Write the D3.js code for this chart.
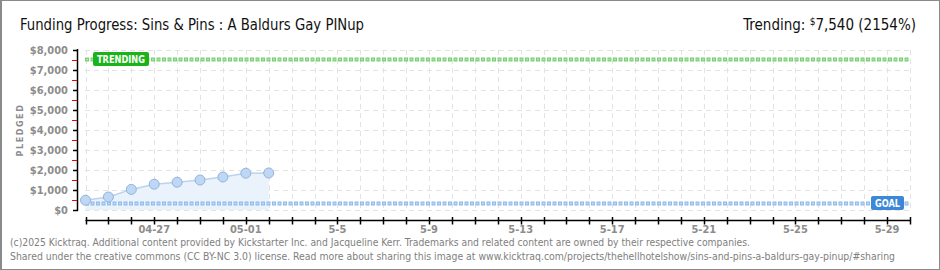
<!DOCTYPE html>
<html><head><meta charset="utf-8">
<script src="https://cdn.jsdelivr.net/npm/d3@7"></script>
<style>
html,body{margin:0;padding:0;background:#fff;}
svg{display:block;}
text{font-family:"DejaVu Sans Condensed","DejaVu Sans",sans-serif;}
</style></head>
<body>
<script>
const dates = ["2025-04-24","2025-04-25","2025-04-26","2025-04-27","2025-04-28","2025-04-29","2025-04-30","2025-05-01","2025-05-02"];
const pledged = [490, 650, 1030, 1290, 1390, 1500, 1650, 1840, 1850];
const goal = 350;
const trending = 7540;
const yTicks = [0,1000,2000,3000,4000,5000,6000,7000,8000];
const yTickLabels = ["$0","$1,000","$2,000","$3,000","$4,000","$5,000","$6,000","$7,000","$8,000"];
const xLabelDates = ["2025-04-27","2025-05-01","2025-05-05","2025-05-09","2025-05-13","2025-05-17","2025-05-21","2025-05-25","2025-05-29"];
const xLabels = ["04-27","05-01","5-5","5-9","5-13","5-17","5-21","5-25","5-29"];
const domainStart = "2025-04-24", domainEnd = "2025-05-30";

const W=940,H=270;
const parse = d3.utcParse("%Y-%m-%d");
const svg = d3.select("body").append("svg").attr("width",W).attr("height",H);

svg.append("rect").attr("x",0.5).attr("y",0.5).attr("width",W-1).attr("height",H-1).attr("fill","#fff").attr("stroke","#8a8a8a").attr("stroke-width",1);
svg.append("line").attr("x1",1).attr("x2",1).attr("y1",0).attr("y2",H).attr("stroke","#8a8a8a").attr("stroke-width",2);

const x = d3.scaleUtc().domain([parse(domainStart),parse(domainEnd)]).range([85.5,910]);
const y = d3.scaleLinear().domain([0,8000]).range([210,50]);

// grid
const days = d3.utcDay.range(parse(domainStart), d3.utcDay.offset(parse(domainEnd),1));
svg.append("g").selectAll("line").data(days).join("line")
  .attr("x1",d=>Math.round(x(d))+0.5).attr("x2",d=>Math.round(x(d))+0.5).attr("y1",50).attr("y2",210)
  .attr("stroke","#e3e3e3").attr("stroke-dasharray","5,4");
svg.append("g").selectAll("line").data(yTicks).join("line")
  .attr("x1",85).attr("x2",910).attr("y1",d=>Math.round(y(d))+0.5).attr("y2",d=>Math.round(y(d))+0.5)
  .attr("stroke","#e3e3e3").attr("stroke-dasharray","5,4");

// area & line
const pts = dates.map((d,i)=>({d:parse(d),v:pledged[i]}));
svg.append("path").datum(pts).attr("d",d3.area().x(p=>x(p.d)).y0(y(0)).y1(p=>y(p.v))).attr("fill","#eaf2fc");
svg.append("path").datum(pts).attr("d",d3.line().x(p=>x(p.d)).y(p=>y(p.v))).attr("fill","none").attr("stroke","#b9d3f0").attr("stroke-width",1.5);

// goal / trending lines
function dotLine(val,dark,light){
  const yy = Math.round(y(val))+0.5;
  svg.append("line").attr("x1",85).attr("x2",910).attr("y1",yy).attr("y2",yy).attr("stroke",dark).attr("stroke-width",4).attr("stroke-dasharray","4,1.5");
  svg.append("line").attr("x1",85).attr("x2",910).attr("y1",yy).attr("y2",yy).attr("stroke",light).attr("stroke-width",1.5).attr("stroke-dasharray","2,3.5").attr("stroke-dashoffset",-1);
}
dotLine(goal,"#92bbe8","#c4dcf5");
dotLine(trending,"#79cf74","#b5e8b1");

// points
svg.append("g").selectAll("circle").data(pts).join("circle")
  .attr("cx",p=>x(p.d)).attr("cy",p=>y(p.v)).attr("r",5)
  .attr("fill","#bed7f5").attr("stroke","#93b3da").attr("stroke-width",1);

// badges
function badge(x0,y0,w,h,fill,label){
  svg.append("rect").attr("x",x0).attr("y",y0).attr("width",w).attr("height",h).attr("rx",2).attr("fill",fill);
  svg.append("text").attr("x",x0+w/2).attr("y",y0+h/2+4).attr("text-anchor","middle").attr("font-size",11)
    .attr("fill","#fff").attr("font-family","DejaVu Sans Condensed, sans-serif").attr("font-weight","bold")
    .attr("textLength",w-8).attr("lengthAdjust","spacingAndGlyphs").text(label);
}
badge(93,52,56,14,"#1ab41a","TRENDING");
badge(871,196,33,14,"#3d88d6","GOAL");

// y axis
svg.append("line").attr("x1",77.5).attr("x2",77.5).attr("y1",y(8000)-1).attr("y2",y(0)+1).attr("stroke","#000").attr("stroke-width",1.5);
svg.append("g").selectAll("line").data(yTicks).join("line")
  .attr("x1",73).attr("x2",78).attr("y1",d=>Math.round(y(d))+0.5).attr("y2",d=>Math.round(y(d))+0.5).attr("stroke","#000").attr("stroke-width",1.5);
svg.append("g").selectAll("line").data(yTicks.slice(0,-1).map(v=>v+500)).join("line")
  .attr("x1",72).attr("x2",77).attr("y1",d=>Math.round(y(d))+0.5).attr("y2",d=>Math.round(y(d))+0.5).attr("stroke","#e00").attr("stroke-width",1);
svg.append("g").selectAll("text").data(yTicks).join("text")
  .attr("x",68).attr("y",d=>y(d)+4).attr("text-anchor","end").attr("font-size",11).attr("fill","#8c8c8c").attr("font-weight","bold")
  .text((d,i)=>yTickLabels[i]);
svg.append("text").attr("transform","translate(23,130) rotate(-90)").attr("text-anchor","middle").attr("font-size",9).attr("letter-spacing",1.5).attr("fill","#8c8c8c").attr("font-weight","bold").text("PLEDGED");

// x axis
svg.append("line").attr("x1",85.5).attr("x2",910.5).attr("y1",220.5).attr("y2",220.5).attr("stroke","#000").attr("stroke-width",1.5);
svg.append("g").selectAll("line").data(days).join("line")
  .attr("x1",d=>Math.round(x(d))+0.5).attr("x2",d=>Math.round(x(d))+0.5).attr("y1",217).attr("y2",224.5).attr("stroke","#000").attr("stroke-width",1.5);
svg.append("g").selectAll("text").data(xLabelDates).join("text")
  .attr("x",d=>x(parse(d))).attr("y",233).attr("text-anchor","middle").attr("font-size",11).attr("fill","#8c8c8c").attr("font-weight","bold")
  .text((d,i)=>xLabels[i]);

// title
svg.append("text").attr("x",20).attr("y",30).attr("font-size",16).attr("fill","#111").attr("textLength",344).attr("lengthAdjust","spacingAndGlyphs")
  .text("Funding Progress: Sins & Pins : A Baldurs Gay PINup");
const tr = svg.append("text").attr("x",916).attr("y",30).attr("text-anchor","end").attr("font-size",15).attr("fill","#111");
tr.append("tspan").text("Trending:  ");
tr.append("tspan").attr("font-size",10).attr("dy",-5).text("$");
tr.append("tspan").attr("dy",5).text("7,540 (2154%)");

// footer
svg.append("text").attr("x",10).attr("y",246).attr("font-size",10).attr("fill","#808080").attr("textLength",740).attr("lengthAdjust","spacingAndGlyphs")
  .text("(c)2025 Kicktraq. Additional content provided by Kickstarter Inc. and Jacqueline Kerr. Trademarks and related content are owned by their respective companies.");
svg.append("text").attr("x",10).attr("y",260).attr("font-size",10).attr("fill","#808080").attr("textLength",885).attr("lengthAdjust","spacingAndGlyphs")
  .text("Shared under the creative commons (CC BY-NC 3.0) license. Read more about sharing this image at www.kicktraq.com/projects/thehellhotelshow/sins-and-pins-a-baldurs-gay-pinup/#sharing");
</script>
</body></html>
